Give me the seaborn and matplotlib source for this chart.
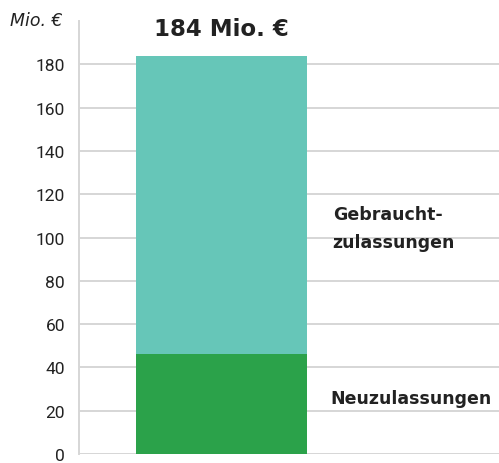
import matplotlib
matplotlib.use("Agg")
import matplotlib.pyplot as plt
import seaborn as sns
import pandas as pd

category = ["Kfz"]
neu = [46]
gebraucht = [138]
total = [n + g for n, g in zip(neu, gebraucht)]
yticks = [0, 20, 40, 60, 80, 100, 120, 140, 160, 180]

sns.set_style("white")
plt.rcParams['font.family'] = ['DejaVu Sans']

fig = plt.figure(figsize=(4.99, 4.64), dpi=100)
ax = fig.add_axes([0.158, 0.0194, 0.842, 0.933])

df_total = pd.DataFrame({"cat": category, "val": total})
df_neu = pd.DataFrame({"cat": category, "val": neu})

sns.barplot(data=df_total, x="cat", y="val", color="#66C6B8", saturation=1, width=0.8,
            linewidth=0, edgecolor="none", ax=ax, zorder=3)
sns.barplot(data=df_neu, x="cat", y="val", color="#2BA24A", saturation=1, width=0.8,
            linewidth=0, edgecolor="none", ax=ax, zorder=3)

ax.set_ylim(0, 200)
ax.set_xlim(-0.667, 1.298)
ax.set_yticks(yticks)
ax.set_yticklabels([str(t) for t in yticks], fontsize=12.5, color="#222222", family="Roboto")
ax.set_xticks([])
ax.set_xlabel("")
ax.set_ylabel("")
ax.grid(axis="y", color="#d6d6d6", linewidth=1.4, zorder=0)
ax.set_axisbelow(True)
for s in ["top", "right", "bottom"]:
    ax.spines[s].set_visible(False)
ax.spines["left"].set_color("#d6d6d6")
ax.spines["left"].set_linewidth(1.4)
ax.tick_params(axis="y", length=5, width=1.4, color="#d6d6d6", pad=5)

fig.text(0.02, 0.955, "Mio. €", fontsize=12.5, style="italic", color="#222222", va="center", ha="left")
ax.text(0, total[0] + 12.5, f"{total[0]} Mio. €", fontsize=16.5, fontweight="bold", color="#222222",
        ha="center", va="center")
ax.text(0.52, 104.5, "Gebraucht-\nzulassungen", fontsize=12.5, fontweight="bold", color="#222222",
        ha="left", va="center", linespacing=1.7)
ax.text(0.51, 26, "Neuzulassungen", fontsize=12.5, fontweight="bold", color="#222222",
        ha="left", va="center")

fig.savefig("out.png", dpi=100)
